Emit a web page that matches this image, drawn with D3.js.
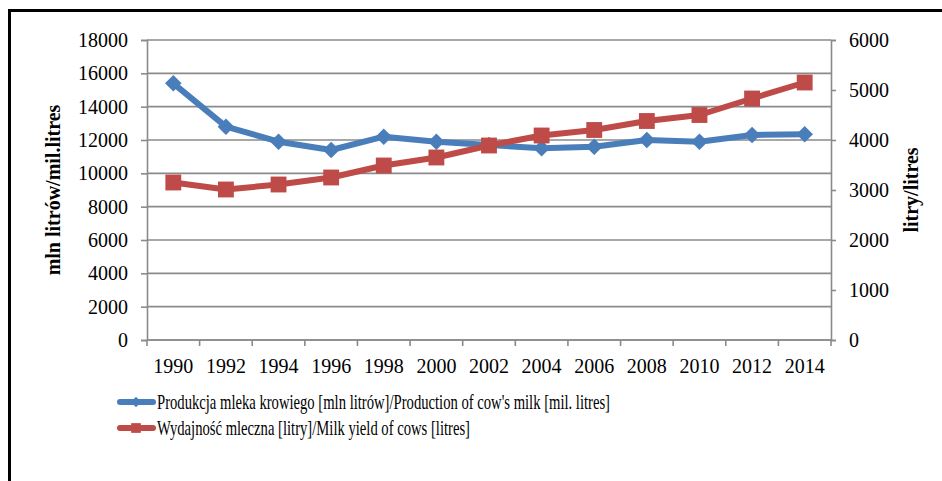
<!DOCTYPE html>
<html><head><meta charset="utf-8">
<script src="https://cdn.jsdelivr.net/npm/d3@7"></script>
<style>html,body{margin:0;padding:0;background:#fff;}svg{display:block;}text{font-family:"Liberation Serif","Times New Roman",serif;fill:#000;}</style>
</head><body>
<script>
const years = ["1990","1992","1994","1996","1998","2000","2002","2004","2006","2008","2010","2012","2014"];
const production = [15400,12800,11900,11400,12200,11900,11700,11500,11600,12000,11900,12300,12350];
const milkYield = [3150,3010,3110,3250,3490,3650,3890,4090,4200,4380,4500,4830,5150];
const leftTicks = [0,2000,4000,6000,8000,10000,12000,14000,16000,18000];
const rightTicks = [0,1000,2000,3000,4000,5000,6000];
const seriesNames = ["Produkcja mleka krowiego [mln litrów]/Production of cow's milk [mil. litres]","Wydajność mleczna [litry]/Milk yield of cows [litres]"];
const leftTitle = "mln litrów/mil.litres";
const rightTitle = "litry/litres";

const W=942,H=481;
const L=147,R=831,T=40,B=340;
const blue="#4A7EBB", red="#BE4B48", grid="#8a8a8a";

const svg=d3.select("body").append("svg").attr("width",W).attr("height",H);
svg.append("rect").attr("width",W).attr("height",H).attr("fill","#fff");
svg.append("rect").attr("x",9.5).attr("y",10.5).attr("width",W+20).attr("height",H+20)
  .attr("fill","none").attr("stroke","#000").attr("stroke-width",3);

const x=d3.scaleBand().domain(years).range([L,R]).padding(0);
const yL=d3.scaleLinear().domain([0,18000]).range([B,T]);
const yR=d3.scaleLinear().domain([0,6000]).range([B,T]);
const cx=d=>x(d)+x.bandwidth()/2;

svg.append("g").selectAll("line").data(leftTicks).join("line")
  .attr("x1",L).attr("x2",R).attr("y1",d=>yL(d)).attr("y2",d=>yL(d))
  .attr("stroke",grid).attr("stroke-width",1.6);

const gl=svg.append("g").attr("transform",`translate(${L},0)`)
  .call(d3.axisLeft(yL).tickValues(leftTicks).tickSize(6).tickPadding(13).tickFormat(d3.format("d")));
gl.select(".domain").attr("stroke",grid).attr("stroke-width",1.6);
gl.selectAll(".tick line").attr("stroke",grid).attr("stroke-width",1.6);
gl.selectAll(".tick text").attr("font-size",20);

const gr=svg.append("g").attr("transform",`translate(${R},0)`)
  .call(d3.axisRight(yR).tickValues(rightTicks).tickSize(5).tickPadding(13).tickFormat(d3.format("d")));
gr.select(".domain").attr("stroke",grid).attr("stroke-width",1.6);
gr.selectAll(".tick line").attr("stroke",grid).attr("stroke-width",1.6);
gr.selectAll(".tick text").attr("font-size",20);

const gb=svg.append("g").attr("transform",`translate(0,${B})`)
  .call(d3.axisBottom(x).tickSize(0).tickPadding(19));
gb.select(".domain").attr("stroke",grid).attr("stroke-width",1.6).attr("d",`M${L},0H${R}`);
gb.selectAll(".tick text").attr("font-size",20);
const bounds=years.map(d=>x(d)).concat([R]);
gb.selectAll("line.bt").data(bounds).join("line").attr("class","bt")
  .attr("x1",d=>d).attr("x2",d=>d).attr("y1",0).attr("y2",6).attr("stroke",grid).attr("stroke-width",1.6);

svg.append("text").attr("transform",`translate(60,190) rotate(-90)`).attr("text-anchor","middle")
  .attr("font-size",20).attr("font-weight","bold").text(leftTitle);
svg.append("text").attr("transform",`translate(918,190) rotate(-90)`).attr("text-anchor","middle")
  .attr("font-size",20).attr("font-weight","bold").text(rightTitle);

const lineL=d3.line().x((d,i)=>cx(years[i])).y(d=>yL(d));
const lineR=d3.line().x((d,i)=>cx(years[i])).y(d=>yR(d));
svg.append("path").datum(production).attr("d",lineL).attr("fill","none").attr("stroke",blue).attr("stroke-width",6).attr("stroke-linejoin","round");
svg.append("path").datum(milkYield).attr("d",lineR).attr("fill","none").attr("stroke",red).attr("stroke-width",6).attr("stroke-linejoin","round");

svg.append("g").selectAll("path").data(production).join("path")
  .attr("d",d3.symbol().type(d3.symbolSquare2).size(175)())
  .attr("transform",(d,i)=>`translate(${cx(years[i])},${yL(d)}) rotate(45)`)
  .attr("fill",blue);
svg.append("g").selectAll("path").data(milkYield).join("path")
  .attr("d",d3.symbol().type(d3.symbolSquare2).size(320)())
  .attr("transform",(d,i)=>`translate(${cx(years[i])},${yR(d)})`)
  .attr("fill",red);

const lg=svg.append("g");
const rows=[{name:seriesNames[0],c:blue,y:402,len:453,m:"d"},{name:seriesNames[1],c:red,y:428,len:313,m:"s"}];
rows.forEach(r=>{
  lg.append("line").attr("x1",120).attr("x2",153).attr("y1",r.y).attr("y2",r.y).attr("stroke",r.c).attr("stroke-width",6).attr("stroke-linecap","round");
  if(r.m==="d"){
    lg.append("path").attr("d",d3.symbol().type(d3.symbolSquare2).size(70)()).attr("transform",`translate(136,${r.y}) rotate(45)`).attr("fill",r.c);
  } else {
    lg.append("path").attr("d",d3.symbol().type(d3.symbolSquare2).size(120)()).attr("transform",`translate(136,${r.y})`).attr("fill",r.c);
  }
  lg.append("text").attr("x",157).attr("y",r.y+7).attr("font-size",21)
    .attr("textLength",r.len).attr("lengthAdjust","spacingAndGlyphs").text(r.name);
});
</script>
</body></html>
